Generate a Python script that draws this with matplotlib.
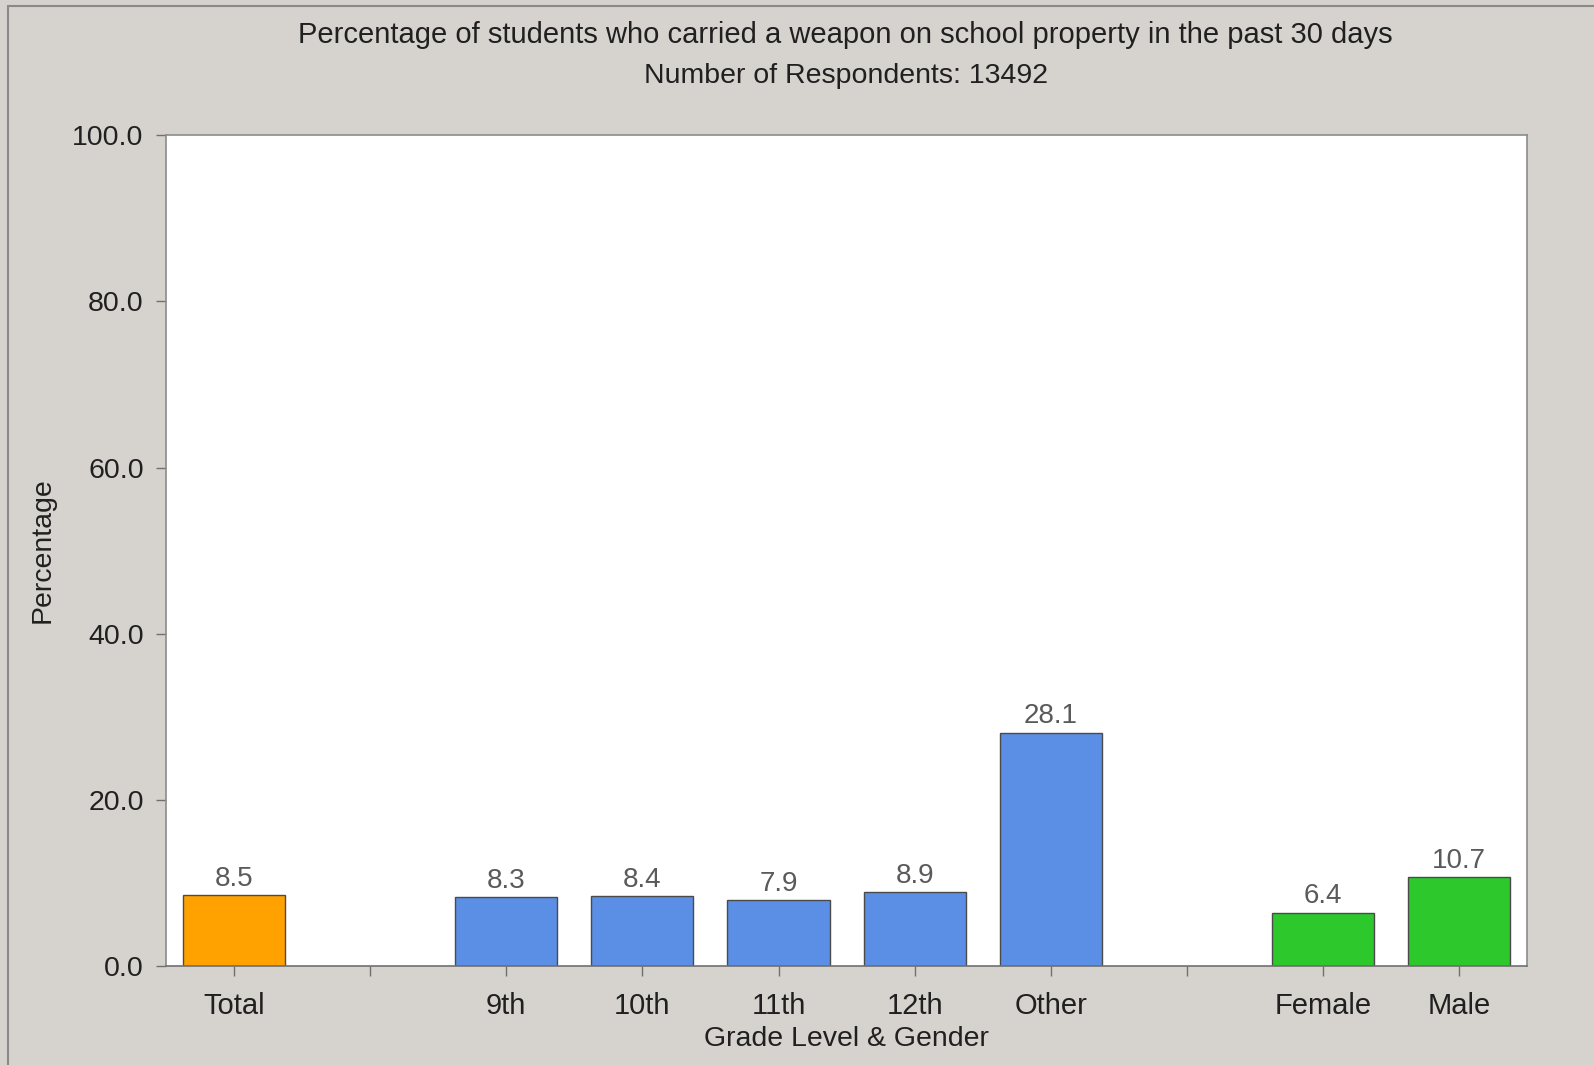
import matplotlib.pyplot as plt
from matplotlib.patches import Rectangle

plt.rcParams['font.family'] = ['Liberation Sans', 'DejaVu Sans']

# chart data
categories = ['Total', '', '9th', '10th', '11th', '12th', 'Other', '', 'Female', 'Male']
values = [8.5, None, 8.3, 8.4, 7.9, 8.9, 28.1, None, 6.4, 10.7]
groups = ['total', None, 'grade', 'grade', 'grade', 'grade', 'grade', None, 'gender', 'gender']
y_ticks = [0, 20, 40, 60, 80, 100]

COLORS = {'total': '#ffa200', 'grade': '#5b8fe6', 'gender': '#2cc82c'}
BG = '#d6d3ce'

fig = plt.figure(figsize=(15.94, 10.65), dpi=100, facecolor=BG)
ax = fig.add_axes([0.1041, 0.0930, 0.854, 0.780])
ax.set_facecolor('white')

for i, (v, g) in enumerate(zip(values, groups)):
    if v is None:
        continue
    ax.bar(i, v, width=0.75, color=COLORS[g], edgecolor='#4a4a4a', linewidth=1.0)
    ax.text(i, v + 0.4, f'{v:.1f}', ha='center', va='bottom', fontsize=20, color='#5a5a5a')

ax.set_xlim(-0.5, len(categories) - 0.5)
ax.set_ylim(0, 100)
ax.set_xticks(range(len(categories)))
ax.set_xticklabels(categories, fontsize=21, color='#202020')
ax.set_yticks(y_ticks)
ax.set_yticklabels([f'{t:.1f}' for t in y_ticks], fontsize=20.5, color='#202020')
ax.tick_params(axis='both', direction='out', length=7, width=1, color='#707070')
ax.tick_params(axis='x', pad=12)
ax.tick_params(axis='y', pad=9)

for s in ax.spines.values():
    s.set_color('#8c8c8c')
    s.set_linewidth(1.2)
ax.spines['bottom'].set_color('#707070')

ax.set_ylabel('Percentage', fontsize=20.5, color='#202020', labelpad=12)
ax.set_xlabel('Grade Level & Gender', fontsize=20.5, color='#202020', labelpad=4)

fig.text(0.5306, 0.967, 'Percentage of students who carried a weapon on school property in the past 30 days',
         ha='center', va='center', fontsize=21, color='#202020')
fig.text(0.5306, 0.929, 'Number of Respondents: 13492',
         ha='center', va='center', fontsize=20.5, color='#202020')

# outer frame
fig.patches.append(Rectangle((8 / 1594, -0.01), 1.0, 1 - 6 / 1065 + 0.01, transform=fig.transFigure,
                             fill=False, edgecolor='#8a8a8a', linewidth=1.5))

fig.savefig('out.png', dpi=100, facecolor=BG)
